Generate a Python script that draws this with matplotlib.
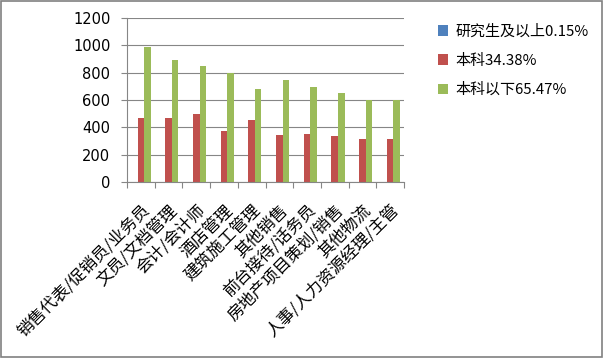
import numpy as np
import matplotlib.pyplot as plt
from matplotlib.patches import Rectangle

plt.rcParams['font.family'] = ['Noto Sans CJK SC', 'DejaVu Sans']

categories = ['销售代表/促销员/业务员', '文员/文档管理', '会计/会计师', '酒店管理', '建筑施工管理',
              '其他销售', '前台接待/话务员', '房地产项目策划/销售', '其他物流', '人事/人力资源经理/主管']
grad = [2, 1, 1, 1, 1, 1, 1, 1, 1, 1]
bachelor = [468, 468, 498, 376, 451, 346, 354, 334, 317, 317]
below = [985, 893, 846, 800, 678, 749, 695, 649, 600, 600]
labels = ['研究生及以上0.15%', '本科34.38%', '本科以下65.47%']
colors = ['#4F81BD', '#C0504D', '#9BBB59']

fig = plt.figure(figsize=(6.04, 3.58), dpi=100)
ax = fig.add_axes([127/604, 1 - 182/358, 277/604, 164/358])

x = np.arange(len(categories))
w = 0.235
for i, (vals, lab, c) in enumerate(zip([grad, bachelor, below], labels, colors)):
    ax.bar(x + (i - 1) * w, vals, w, color=c, label=lab, zorder=2)

ax.set_xlim(-0.5, len(categories) - 0.5)
ax.set_ylim(0, 1200)
ax.set_yticks(range(0, 1201, 200))
ax.yaxis.grid(True, color='#868686', linewidth=0.8, zorder=0)
ax.tick_params(axis='y', length=4, color='#868686', labelsize=10.5, pad=8)
for t in ax.get_yticklabels():
    t.set_family('DejaVu Sans')

ax.set_xticks(np.arange(len(categories) + 1) - 0.5, minor=False)
ax.set_xticklabels([])
ax.tick_params(axis='x', length=4, color='#868686')
ax.set_xticks(x, minor=True)
ax.set_xticklabels(categories, minor=True, rotation=45, ha='right', va='top',
                   rotation_mode='anchor', fontsize=12)
ax.tick_params(axis='x', which='minor', length=0, pad=14)

for s in ['top', 'right']:
    ax.spines[s].set_visible(False)
for s in ['left', 'bottom']:
    ax.spines[s].set_color('#868686')

fig.legend(loc='upper left', bbox_to_anchor=(424/604, 1 - 11/358), frameon=False,
           fontsize=10.8, handlelength=0.7, handleheight=0.7, handletextpad=0.5,
           labelspacing=1.0)

fig.patches.append(Rectangle((0.002, 0.003), 0.995, 0.994, transform=fig.transFigure,
                             fill=False, edgecolor='#808080', linewidth=1.2))

fig.savefig('out.png', dpi=100)
